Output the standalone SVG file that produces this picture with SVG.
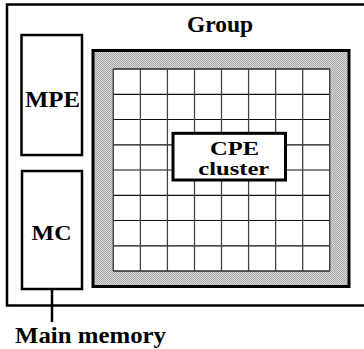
<svg xmlns="http://www.w3.org/2000/svg" width="364" height="349" viewBox="0 0 364 349">
  <style>
    .box { fill: #fff; stroke: #000; stroke-width: 2.5; }
    .lbl { font-family: "Liberation Serif", Tinos, "Times New Roman", "DejaVu Serif", serif; font-weight: bold; font-size: 24px; fill: #000; }
    .sm { font-size: 21px; }
    .xs { font-size: 19px; }
    .hl { stroke: #111; stroke-width: 1.2; }
    .vl { stroke: #444; stroke-width: 1.3; }
  </style>
  <defs>
    <pattern id="dither" width="2" height="2" patternUnits="userSpaceOnUse">
      <rect width="2" height="2" fill="#d8d8d8"/>
      <rect width="1" height="1" fill="#a8a8a8"/>
      <rect x="1" y="1" width="1" height="1" fill="#a8a8a8"/>
    </pattern>
  </defs>

  <rect width="364" height="349" fill="#fff"/>

  <!-- group frame (right side runs past the canvas edge) -->
  <g id="group">
    <rect class="box" x="7" y="4.5" width="360" height="301"/>
    <text class="lbl" x="187" y="32" textLength="66" lengthAdjust="spacingAndGlyphs">Group</text>
  </g>

  <g id="mpe">
    <rect class="box" x="21.5" y="35" width="60.5" height="120"/>
    <text class="lbl" x="25" y="106.5" textLength="55" lengthAdjust="spacingAndGlyphs">MPE</text>
  </g>

  <g id="mc">
    <rect class="box" x="22" y="171" width="60" height="118"/>
    <text class="lbl sm" x="31.5" y="240" textLength="40" lengthAdjust="spacingAndGlyphs">MC</text>
  </g>

  <!-- CPE array: dithered frame with an 8x8 grid -->
  <g id="cpe-array">
    <rect x="93" y="50.5" width="256" height="236" fill="url(#dither)" stroke="#000" stroke-width="3"/>
    <rect x="113.3" y="69" width="216.4" height="202" fill="#fff" stroke="#555" stroke-width="1"/>
    <g>
      <line class="hl" x1="113.3" y1="69" x2="329.7" y2="69"/>
      <line class="hl" x1="113.3" y1="94.3" x2="329.7" y2="94.3"/>
      <line class="hl" x1="113.3" y1="119.5" x2="329.7" y2="119.5"/>
      <line class="hl" x1="113.3" y1="144.8" x2="329.7" y2="144.8"/>
      <line class="hl" x1="113.3" y1="170" x2="329.7" y2="170"/>
      <line class="hl" x1="113.3" y1="195.3" x2="329.7" y2="195.3"/>
      <line class="hl" x1="113.3" y1="220.5" x2="329.7" y2="220.5"/>
      <line class="hl" x1="113.3" y1="245.8" x2="329.7" y2="245.8"/>
      <line class="hl" x1="113.3" y1="271" x2="329.7" y2="271"/>
      <line class="vl" x1="113.3" y1="69" x2="113.3" y2="271"/>
      <line class="vl" x1="140.4" y1="69" x2="140.4" y2="271"/>
      <line class="vl" x1="167.4" y1="69" x2="167.4" y2="271"/>
      <line class="vl" x1="194.5" y1="69" x2="194.5" y2="271"/>
      <line class="vl" x1="221.5" y1="69" x2="221.5" y2="271"/>
      <line class="vl" x1="248.6" y1="69" x2="248.6" y2="271"/>
      <line class="vl" x1="275.6" y1="69" x2="275.6" y2="271"/>
      <line class="vl" x1="302.7" y1="69" x2="302.7" y2="271"/>
      <line class="vl" x1="329.7" y1="69" x2="329.7" y2="271"/>
    </g>
  </g>

  <g id="cpe-cluster">
    <rect x="173" y="133.3" width="112.5" height="46.7" fill="#fff" stroke="#000" stroke-width="3"/>
    <text class="lbl xs" x="210" y="154.5" textLength="49" lengthAdjust="spacingAndGlyphs">CPE</text>
    <text class="lbl xs" x="198.3" y="175" textLength="71" lengthAdjust="spacingAndGlyphs">cluster</text>
  </g>

  <g id="connectors">
    <line x1="52" y1="289" x2="52" y2="322" stroke="#000" stroke-width="2.5"/>
  </g>

  <g id="main-memory">
    <text class="lbl" x="15" y="343" textLength="151" lengthAdjust="spacingAndGlyphs">Main memory</text>
  </g>
</svg>
